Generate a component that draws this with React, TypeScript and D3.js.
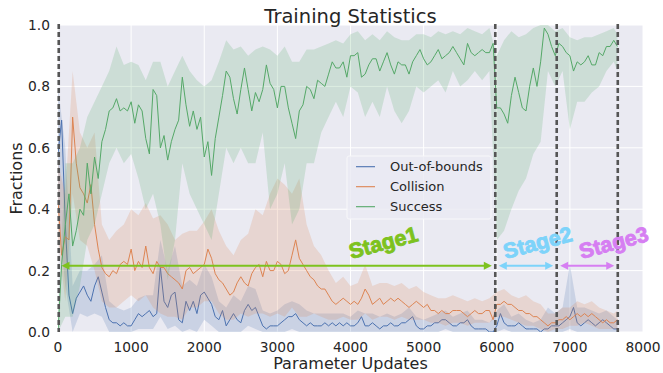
import React from "react";
import * as d3 from "d3";

// ---------- data ----------
const xTicks = [0, 1000, 2000, 3000, 4000, 5000, 6000, 7000, 8000];
const yTicks = [0, 0.2, 0.4, 0.6, 0.8, 1.0];
const seriesNames = ["Out-of-bounds", "Collision", "Success"];
const stageNames = ["Stage1", "Stage2", "Stage3"];
const stageBounds = [0, 5980, 6820, 7655];

// line samples every 50 updates (0..7650)
const successLine = [
  0.00, 0.22, 0.35, 0.45, 0.28, 0.33, 0.40, 0.38, 0.55, 0.45,
  0.57, 0.50, 0.62, 0.66, 0.72, 0.73, 0.76, 0.72, 0.73, 0.72,
  0.75, 0.68, 0.74, 0.72, 0.63, 0.58, 0.79, 0.77, 0.60, 0.64,
  0.56, 0.62, 0.66, 0.69, 0.83, 0.74, 0.67, 0.72, 0.66, 0.70,
  0.57, 0.62, 0.51, 0.63, 0.70, 0.77, 0.85, 0.83, 0.76, 0.71,
  0.79, 0.86, 0.79, 0.72, 0.78, 0.75, 0.79, 0.87, 0.81, 0.79,
  0.73, 0.80, 0.80, 0.73, 0.68, 0.63, 0.72, 0.74, 0.80, 0.79,
  0.76, 0.82, 0.81, 0.80, 0.84, 0.88, 0.86, 0.86, 0.88, 0.83,
  0.90, 0.90, 0.91, 0.83, 0.84, 0.87, 0.89, 0.89, 0.85, 0.88,
  0.91, 0.87, 0.84, 0.88, 0.87, 0.87, 0.84, 0.88, 0.90, 0.92,
  0.89, 0.87, 0.88, 0.90, 0.92, 0.89, 0.90, 0.91, 0.93, 0.91,
  0.89, 0.87, 0.94, 0.91, 0.90, 0.91, 0.92, 0.91, 0.91, 0.94,
  0.73, 0.73, 0.71, 0.68, 0.77, 0.83, 0.78, 0.73, 0.72, 0.80,
  0.86, 0.80, 0.88, 0.99, 0.97, 0.93, 0.90, 0.94, 0.93, 0.91,
  0.90, 0.85, 0.88, 0.87, 0.88, 0.90, 0.87, 0.87, 0.91, 0.90,
  0.93, 0.93, 0.95, 0.93,
];
const collisionLine = [
  0.43, 0.25, 0.31, 0.30, 0.70, 0.55, 0.47, 0.45, 0.42, 0.48,
  0.35, 0.27, 0.21, 0.19, 0.18, 0.20, 0.19, 0.22, 0.23, 0.22,
  0.27, 0.20, 0.23, 0.21, 0.28, 0.21, 0.19, 0.23, 0.21, 0.21,
  0.19, 0.18, 0.17, 0.16, 0.14, 0.20, 0.21, 0.19, 0.20, 0.21,
  0.22, 0.27, 0.24, 0.19, 0.17, 0.16, 0.14, 0.12, 0.13, 0.16,
  0.18, 0.16, 0.15, 0.19, 0.21, 0.22, 0.18, 0.23, 0.20, 0.20,
  0.23, 0.22, 0.19, 0.20, 0.25, 0.30, 0.24, 0.22, 0.20, 0.18,
  0.17, 0.15, 0.14, 0.14, 0.12, 0.10, 0.09, 0.10, 0.11, 0.10,
  0.09, 0.10, 0.09, 0.11, 0.14, 0.12, 0.09, 0.10, 0.11, 0.09,
  0.10, 0.11, 0.10, 0.11, 0.10, 0.09, 0.08, 0.09, 0.10, 0.09,
  0.08, 0.09, 0.07, 0.07, 0.06, 0.07, 0.06, 0.06, 0.07, 0.07,
  0.07, 0.06, 0.05, 0.06, 0.07, 0.06, 0.06, 0.07, 0.07, 0.04,
  0.09, 0.09, 0.10, 0.09, 0.09, 0.08, 0.07, 0.07, 0.06, 0.06,
  0.05, 0.05, 0.04, 0.03, 0.02, 0.03, 0.03, 0.04, 0.04, 0.05,
  0.04, 0.05, 0.06, 0.05, 0.06, 0.05, 0.06, 0.05, 0.04, 0.03,
  0.04, 0.03, 0.03, 0.04,
];
const outOfBoundsLine = [
  0.58, 0.69, 0.35, 0.12, 0.06, 0.11, 0.13, 0.15, 0.12, 0.10,
  0.15, 0.18, 0.13, 0.08, 0.04, 0.03, 0.03, 0.02, 0.03, 0.02,
  0.02, 0.04, 0.06, 0.05, 0.06, 0.07, 0.05, 0.06, 0.21, 0.10,
  0.08, 0.12, 0.13, 0.04, 0.03, 0.10, 0.07, 0.10, 0.06, 0.12,
  0.13, 0.11, 0.09, 0.05, 0.04, 0.07, 0.02, 0.04, 0.06, 0.04,
  0.03, 0.07, 0.09, 0.07, 0.08, 0.05, 0.02, 0.01, 0.02, 0.02,
  0.02, 0.03, 0.04, 0.05, 0.05, 0.06, 0.04, 0.03, 0.02, 0.03,
  0.02, 0.02, 0.02, 0.03, 0.02, 0.03, 0.02, 0.03, 0.02, 0.03,
  0.02, 0.02, 0.03, 0.05, 0.02, 0.02, 0.03, 0.02, 0.01, 0.02,
  0.02, 0.03, 0.02, 0.02, 0.03, 0.03, 0.04, 0.05, 0.02, 0.01,
  0.01, 0.02, 0.02, 0.03, 0.03, 0.04, 0.04, 0.03, 0.02, 0.02,
  0.03, 0.03, 0.04, 0.02, 0.01, 0.01, 0.01, 0.01, 0.00, 0.00,
  0.02, 0.06, 0.03, 0.02, 0.02, 0.02, 0.03, 0.02, 0.01, 0.01,
  0.01, 0.01, 0.00, 0.01, 0.01, 0.02, 0.02, 0.02, 0.03, 0.04,
  0.05, 0.08, 0.03, 0.02, 0.03, 0.04, 0.03, 0.02, 0.03, 0.04,
  0.03, 0.02, 0.01, 0.01,
];

// confidence bands every 100 updates (0..7600, then 7650)
const successLow = [
  0.00, 0.05, 0.05, 0.15, 0.30, 0.35, 0.45, 0.55, 0.60, 0.55,
  0.58, 0.50, 0.40, 0.45, 0.35, 0.17, 0.30, 0.55, 0.45, 0.40,
  0.35, 0.30, 0.45, 0.60, 0.55, 0.60, 0.55, 0.55, 0.65, 0.40,
  0.45, 0.55, 0.35, 0.40, 0.55, 0.55, 0.65, 0.70, 0.75, 0.70,
  0.80, 0.78, 0.70, 0.75, 0.70, 0.80, 0.72, 0.68, 0.72, 0.80,
  0.78, 0.80, 0.82, 0.78, 0.85, 0.80, 0.82, 0.85, 0.82, 0.85,
  0.30, 0.33, 0.40, 0.46, 0.50, 0.58, 0.62, 0.85, 0.80, 0.85,
  0.66, 0.75, 0.75, 0.78, 0.80, 0.85, 0.88, 0.85,
];
const successHigh = [
  0.05, 0.55, 0.55, 0.60, 0.70, 0.75, 0.80, 0.85, 0.93, 0.87,
  0.88, 0.87, 0.82, 0.88, 0.88, 0.80, 0.85, 0.90, 0.85, 0.82,
  0.80, 0.82, 0.88, 0.95, 0.92, 0.93, 0.90, 0.92, 0.93, 0.92,
  0.90, 0.93, 0.88, 0.88, 0.92, 0.92, 0.93, 0.94, 0.95, 0.94,
  0.97, 0.98, 0.95, 0.97, 0.95, 0.98, 0.96, 0.95, 0.95, 0.97,
  0.97, 0.96, 0.98, 0.97, 0.98, 0.97, 0.99, 0.98, 0.97, 0.99,
  0.90, 0.95, 0.98, 0.96, 0.97, 0.99, 1.00, 1.00, 0.98, 0.99,
  0.96, 0.95, 0.96, 0.96, 0.97, 0.98, 0.99, 0.97,
];
const collisionLow = [
  0.30, 0.10, 0.45, 0.30, 0.28, 0.20, 0.10, 0.08, 0.08, 0.10,
  0.12, 0.10, 0.12, 0.08, 0.06, 0.05, 0.05, 0.04, 0.08, 0.08,
  0.10, 0.10, 0.06, 0.04, 0.04, 0.06, 0.05, 0.06, 0.06, 0.05,
  0.06, 0.05, 0.08, 0.05, 0.05, 0.06, 0.05, 0.04, 0.04, 0.05,
  0.04, 0.04, 0.06, 0.04, 0.05, 0.05, 0.04, 0.05, 0.04, 0.04,
  0.04, 0.03, 0.03, 0.02, 0.03, 0.03, 0.02, 0.03, 0.03, 0.03,
  0.05, 0.05, 0.04, 0.03, 0.02, 0.02, 0.01, 0.00, 0.01, 0.01,
  0.02, 0.02, 0.03, 0.02, 0.01, 0.01, 0.01, 0.01,
];
const collisionHigh = [
  0.55, 0.45, 0.85, 0.65, 0.60, 0.65, 0.35, 0.30, 0.33, 0.35,
  0.40, 0.38, 0.42, 0.37, 0.38, 0.35, 0.30, 0.32, 0.33, 0.33,
  0.36, 0.40, 0.33, 0.28, 0.25, 0.30, 0.32, 0.40, 0.38, 0.45,
  0.50, 0.48, 0.45, 0.50, 0.35, 0.28, 0.25, 0.20, 0.16, 0.18,
  0.15, 0.16, 0.22, 0.15, 0.16, 0.16, 0.15, 0.16, 0.14, 0.15,
  0.13, 0.12, 0.11, 0.11, 0.12, 0.11, 0.10, 0.11, 0.10, 0.11,
  0.13, 0.14, 0.12, 0.11, 0.12, 0.10, 0.09, 0.06, 0.06, 0.08,
  0.08, 0.10, 0.09, 0.10, 0.08, 0.07, 0.06, 0.07,
];
const outOfBoundsLow = [
  0.40, 0.15, 0.00, 0.06, 0.05, 0.06, 0.05, 0.00, 0.00, 0.00,
  0.00, 0.01, 0.01, 0.01, 0.05, 0.01, 0.02, 0.00, 0.01, 0.00,
  0.04, 0.02, 0.00, 0.00, 0.00, 0.00, 0.02, 0.01, 0.00, 0.00,
  0.00, 0.00, 0.01, 0.00, 0.00, 0.00, 0.00, 0.00, 0.00, 0.00,
  0.00, 0.00, 0.00, 0.00, 0.00, 0.00, 0.00, 0.00, 0.00, 0.00,
  0.00, 0.00, 0.00, 0.01, 0.00, 0.00, 0.00, 0.00, 0.00, 0.00,
  0.00, 0.01, 0.00, 0.00, 0.00, 0.00, 0.00, 0.00, 0.00, 0.00,
  0.01, 0.00, 0.00, 0.00, 0.00, 0.00, 0.00, 0.00,
];
const outOfBoundsHigh = [
  0.80, 0.60, 0.15, 0.20, 0.20, 0.22, 0.25, 0.10, 0.08, 0.07,
  0.08, 0.11, 0.12, 0.12, 0.30, 0.20, 0.28, 0.15, 0.17, 0.15,
  0.22, 0.18, 0.10, 0.08, 0.12, 0.10, 0.15, 0.14, 0.07, 0.06,
  0.07, 0.09, 0.10, 0.09, 0.07, 0.06, 0.06, 0.06, 0.06, 0.06,
  0.05, 0.07, 0.06, 0.06, 0.05, 0.06, 0.05, 0.06, 0.08, 0.05,
  0.04, 0.05, 0.06, 0.07, 0.05, 0.06, 0.07, 0.04, 0.04, 0.03,
  0.07, 0.09, 0.05, 0.06, 0.04, 0.03, 0.04, 0.08, 0.06, 0.08,
  0.22, 0.08, 0.08, 0.07, 0.06, 0.07, 0.05, 0.04,
];

const lineX = d3.range(0, 7651, 50);
const bandX = [...d3.range(0, 7601, 100), 7650];

const COLORS = ["#4C72B0", "#DD8452", "#55A868"];
const STAGE_COLORS = ["#7DC21E", "#7DD3FA", "#D67EF2"];
const FONT = "'DejaVu Sans', sans-serif";

export default function App() {
  const x = d3.scaleLinear().domain([0, 8000]).range([58, 643]);
  const y = d3.scaleLinear().domain([0, 1]).range([332, 25]);
  const [x0, x1] = x.range();
  const [yb, yt] = y.range();

  const lines = [outOfBoundsLine, collisionLine, successLine];
  const lows = [outOfBoundsLow, collisionLow, successLow];
  const highs = [outOfBoundsHigh, collisionHigh, successHigh];

  const lineGen = d3
    .line<number>()
    .x((_, i) => x(lineX[i]))
    .y((d) => y(d));
  const areaGen = (lo: number[], hi: number[]) =>
    d3
      .area<number>()
      .x((_, i) => x(bandX[i]))
      .y0((_, i) => y(lo[i]))
      .y1((_, i) => y(hi[i]))(lo);

  const arrowY = y(0.216);
  const head = 8;
  const hw = 4;

  return (
    <svg
      width={663}
      height={373}
      style={{ position: "absolute", left: 0, top: 0, background: "#fff" }}
      fontFamily={FONT}
    >
      <defs>
        <clipPath id="plot">
          <rect x={x0} y={yt} width={x1 - x0} height={yb - yt} />
        </clipPath>
      </defs>
      <rect x={x0} y={yt} width={x1 - x0} height={yb - yt} fill="#EAEAF2" />
      {xTicks.map((t) => (
        <line key={"gx" + t} x1={x(t)} x2={x(t)} y1={yt} y2={yb} stroke="#fff" strokeWidth={1} />
      ))}
      {yTicks.map((t) => (
        <line key={"gy" + t} x1={x0} x2={x1} y1={y(t)} y2={y(t)} stroke="#fff" strokeWidth={1} />
      ))}

      <g clipPath="url(#plot)">
        {lines.map((ln, k) => (
          <g key={"s" + k}>
            <path d={areaGen(lows[k], highs[k]) || ""} fill={COLORS[k]} fillOpacity={0.2} stroke="none" />
            <path d={lineGen(ln) || ""} fill="none" stroke={COLORS[k]} strokeWidth={1} />
          </g>
        ))}
      </g>

      {/* stage dividers */}
      {stageBounds.map((b, i) => (
        <line
          key={"v" + i}
          x1={x(i === 0 ? 10 : b)}
          x2={x(i === 0 ? 10 : b)}
          y1={yt - 1}
          y2={yb}
          stroke="#555555"
          strokeWidth={2.6}
          strokeDasharray="5,3"
        />
      ))}

      {/* stage arrows */}
      {stageNames.map((s, i) => {
        const a = x(stageBounds[i]) + 3.5;
        const b = x(stageBounds[i + 1]) - 3.5;
        const c = STAGE_COLORS[i];
        return (
          <g key={"a" + i}>
            <line x1={a + head - 1} x2={b - head + 1} y1={arrowY} y2={arrowY} stroke={c} strokeWidth={2} />
            <polygon points={`${a},${arrowY} ${a + head},${arrowY - hw} ${a + head},${arrowY + hw}`} fill={c} />
            <polygon points={`${b},${arrowY} ${b - head},${arrowY - hw} ${b - head},${arrowY + hw}`} fill={c} />
          </g>
        );
      })}
      {stageNames.map((s, i) => {
        const pos = [4010, 6120, 7160][i];
        return (
          <text
            key={"t" + i}
            transform={`translate(${x(pos)},${y(0.238)}) rotate(-15)`}
            fill={STAGE_COLORS[i]}
            stroke={STAGE_COLORS[i]}
            strokeWidth={0.9}
            fontFamily="'Liberation Sans', Arial, sans-serif"
            fontWeight="bold"
            fontSize={21.5}
          >
            {s}
          </text>
        );
      })}

      {/* ticks */}
      {xTicks.map((t) => (
        <text key={"tx" + t} x={x(t)} y={yb + 20} textAnchor="middle" fontSize={13.8} fill="#262626">
          {t}
        </text>
      ))}
      {yTicks.map((t) => (
        <text key={"ty" + t} x={x0 - 8} y={y(t)} dy="0.36em" textAnchor="end" fontSize={13.8} fill="#262626">
          {d3.format(".1f")(t)}
        </text>
      ))}

      <text x={(x0 + x1) / 2} y={22.5} textAnchor="middle" fontSize={19.5} fill="#262626">
        Training Statistics
      </text>
      <text x={(x0 + x1) / 2} y={369} textAnchor="middle" fontSize={16} fill="#262626">
        Parameter Updates
      </text>
      <text
        transform={`translate(22,${(yt + yb) / 2}) rotate(-90)`}
        textAnchor="middle"
        fontSize={16}
        fill="#262626"
      >
        Fractions
      </text>

      {/* legend */}
      <g>
        <rect x={347} y={156} width={144} height={63} fill="#EAEAF2" fillOpacity={0.8} stroke="#F8F8FA" strokeWidth={1} rx={2} />
        {seriesNames.map((n, i) => (
          <g key={"l" + i}>
            <line x1={356} x2={375} y1={166.7 + i * 20} y2={166.7 + i * 20} stroke={COLORS[i]} strokeWidth={1.1} />
            <text x={390} y={166.7 + i * 20} dy="0.36em" fontSize={13} fill="#262626">
              {n}
            </text>
          </g>
        ))}
      </g>
    </svg>
  );
}
